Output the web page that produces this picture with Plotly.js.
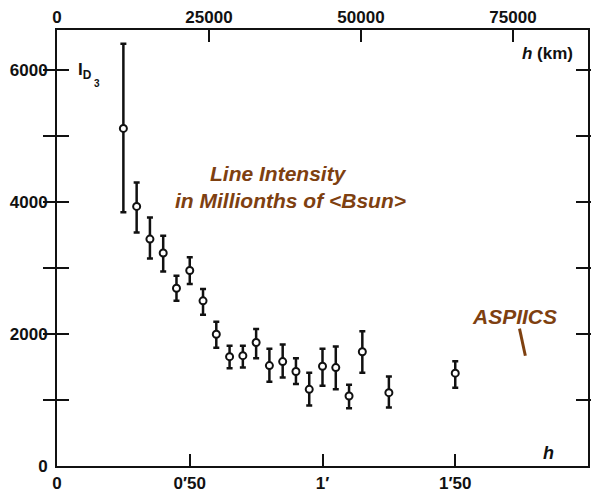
<!DOCTYPE html>
<html>
<head>
<meta charset="utf-8">
<script src="https://cdn.plot.ly/plotly-3.0.1.min.js"></script>
<style>html,body{margin:0;padding:0;background:#fff;}#chart{width:591px;height:495px;}</style>
</head>
<body>
<div id="chart"></div>
<script>
// Angular height h (arcmin)
const heightArcmin = [0.25,0.30,0.35,0.40,0.45,0.50,0.55,0.60,0.65,0.70,0.75,0.80,0.85,0.90,0.95,1.00,1.05,1.10,1.15,1.25,1.50];
// Line intensity I_D3
const intensity = [5110,3930,3435,3225,2690,2960,2500,1995,1655,1670,1870,1520,1580,1430,1160,1510,1490,1060,1730,1110,1405];
// Upper and lower ends of error bars
const intensityHigh = [6390,4290,3760,3485,2880,3160,2680,2185,1820,1820,2075,1775,1840,1630,1410,1775,1810,1230,2040,1355,1585];
const intensityLow  = [3840,3535,3140,2945,2500,2755,2290,1790,1480,1490,1630,1275,1340,1240,915,1215,1160,875,1410,885,1185];

const bottomTickVals = [0,0.5,1,1.5];
const bottomTickText = ["0","0\u203250","1\u2032","1\u203250"];
const topTickVals = [0,25000,50000,75000];
const topTickText = ["0","25000","50000","75000"];
const yTickVals = [0,1000,2000,3000,4000,5000,6000];
const yTickText = ["0"," ","2000"," ","4000"," ","6000"];

const errPlus = intensityHigh.map((v,i)=>v-intensity[i]);
const errMinus = intensity.map((v,i)=>v-intensityLow[i]);

const fam = "Liberation Sans, Arial, sans-serif";
const tickFont = {family:fam, size:17, color:"#111", weight:700};
const brown = "#7E4010";
const noteFont = {family:fam, size:21, color:brown, weight:700, style:"italic"};

const trace = {
  x: heightArcmin, y: intensity, type:"scatter", mode:"markers",
  marker:{symbol:"circle", size:7, color:"#fff", line:{color:"#111", width:2}},
  error_y:{type:"data", symmetric:false, array:errPlus, arrayminus:errMinus, color:"#111", thickness:2.5, width:3},
  cliponaxis:false, showlegend:false, hoverinfo:"skip"
};
const topTrace = {x:[0], y:[0], xaxis:"x2", yaxis:"y", mode:"markers", marker:{opacity:0}, showlegend:false, hoverinfo:"skip"};

const layout = {
  width:591, height:495,
  margin:{l:57, r:3, t:30, b:29, pad:0},
  paper_bgcolor:"#fff", plot_bgcolor:"#fff",
  showlegend:false,
  xaxis:{range:[0,2.0], tickvals:bottomTickVals, ticktext:bottomTickText, ticks:"inside", ticklen:12, tickwidth:2, tickcolor:"#111",
         showline:true, linewidth:2, linecolor:"#111", mirror:true, showgrid:false, zeroline:false, tickfont:tickFont, ticklabelstandoff:1},
  xaxis2:{range:[0,87336], overlaying:"x", side:"top", tickvals:topTickVals, ticktext:topTickText, ticks:"inside", ticklen:12, tickwidth:2, tickcolor:"#111",
         showline:false, showgrid:false, zeroline:false, tickfont:tickFont, ticklabelstandoff:3},
  yaxis:{range:[0,6600], tickvals:yTickVals, ticktext:yTickText, ticks:"inside", ticklen:12, tickwidth:2, tickcolor:"#111",
         showline:true, linewidth:2, linecolor:"#111", mirror:"allticks", showgrid:false, zeroline:false, tickfont:tickFont, ticklabelstandoff:4},
  annotations:[
    {xref:"paper", yref:"paper", x:0.035, y:0.905, xanchor:"left", yanchor:"middle", showarrow:false,
     text:"I<sub>D</sub>", font:{family:fam, size:17, color:"#111", weight:700}},
    {xref:"paper", yref:"paper", x:0.066, y:0.877, xanchor:"left", yanchor:"middle", showarrow:false,
     text:"3", font:{family:fam, size:10, color:"#111", weight:700}},
    {xref:"paper", yref:"paper", x:0.976, y:0.945, xanchor:"right", yanchor:"middle", showarrow:false,
     text:"<i>h</i> (km)", font:{family:fam, size:17, color:"#111", weight:700}},
    {xref:"paper", yref:"paper", x:0.925, y:0.03, xanchor:"center", yanchor:"middle", showarrow:false,
     text:"<i>h</i>", font:{family:fam, size:18, color:"#111", weight:700}},
    {xref:"paper", yref:"paper", x:0.418, y:0.672, xanchor:"center", yanchor:"middle", showarrow:false,
     text:"Line Intensity", font:noteFont},
    {xref:"paper", yref:"paper", x:0.44, y:0.608, xanchor:"center", yanchor:"middle", showarrow:false,
     text:"in Millionths of &lt;Bsun&gt;", font:noteFont},
    {xref:"paper", yref:"paper", x:0.862, y:0.342, xanchor:"center", yanchor:"middle", showarrow:false,
     text:"ASPIICS", font:{family:fam, size:21, color:brown, weight:700, style:"italic"}}
  ],
  shapes:[
    {type:"line", xref:"paper", yref:"paper", x0:0.871, y0:0.315, x1:0.882, y1:0.253, line:{color:brown, width:3}}
  ]
};
Plotly.newPlot("chart", [trace, topTrace], layout, {staticPlot:true, displayModeBar:false});
</script>
</body>
</html>
